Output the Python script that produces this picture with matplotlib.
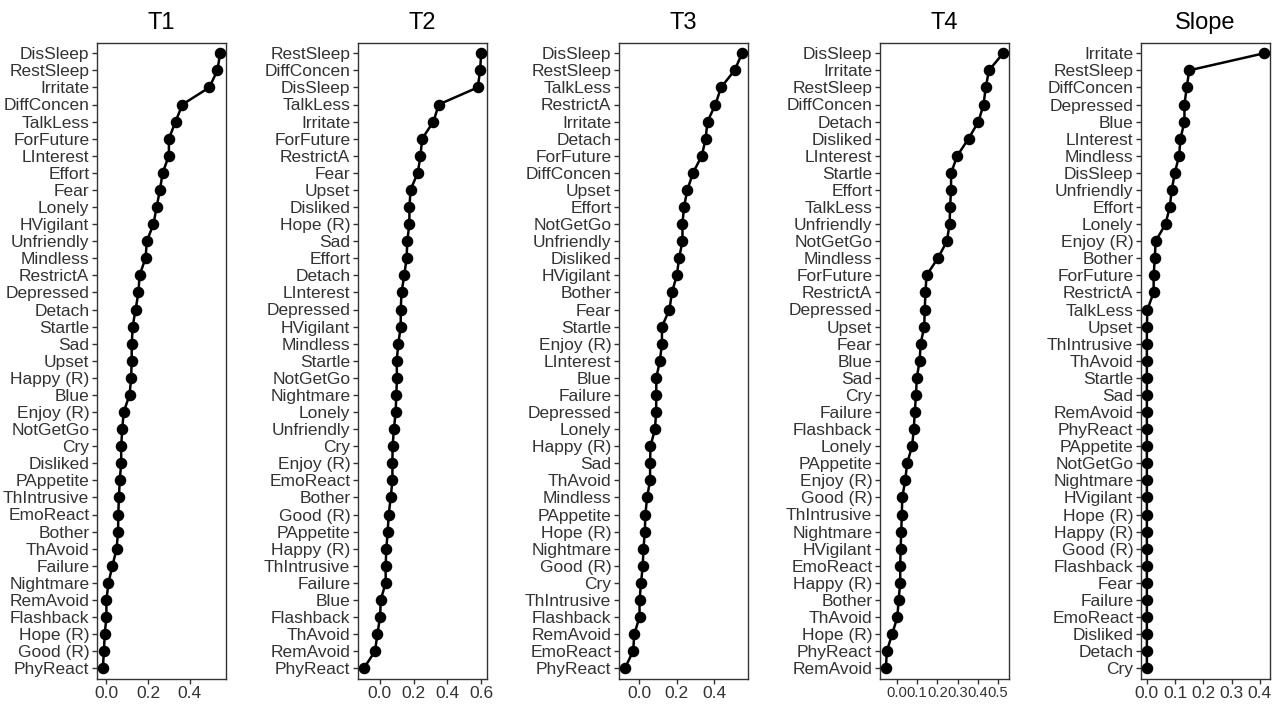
import numpy as np
import matplotlib
matplotlib.use("Agg")
import matplotlib.pyplot as plt

plt.rcParams['font.family'] = ['Liberation Sans', 'DejaVu Sans']

# items listed top to bottom
t1_items = ["DisSleep", "RestSleep", "Irritate", "DiffConcen", "TalkLess", "ForFuture",
            "LInterest", "Effort", "Fear", "Lonely", "HVigilant", "Unfriendly", "Mindless",
            "RestrictA", "Depressed", "Detach", "Startle", "Sad", "Upset", "Happy (R)",
            "Blue", "Enjoy (R)", "NotGetGo", "Cry", "Disliked", "PAppetite", "ThIntrusive",
            "EmoReact", "Bother", "ThAvoid", "Failure", "Nightmare", "RemAvoid", "Flashback",
            "Hope (R)", "Good (R)", "PhyReact"]
t1_vals = [0.546, 0.533, 0.494, 0.365, 0.332, 0.300, 0.300, 0.270, 0.257, 0.241, 0.226,
           0.194, 0.188, 0.159, 0.154, 0.140, 0.126, 0.122, 0.121, 0.119, 0.111, 0.083,
           0.076, 0.071, 0.071, 0.064, 0.060, 0.057, 0.056, 0.049, 0.029, 0.010, 0.000,
           0.000, -0.008, -0.012, -0.017]

t2_items = ["RestSleep", "DiffConcen", "DisSleep", "TalkLess", "Irritate", "ForFuture",
            "RestrictA", "Fear", "Upset", "Disliked", "Hope (R)", "Sad", "Effort", "Detach",
            "LInterest", "Depressed", "HVigilant", "Mindless", "Startle", "NotGetGo",
            "Nightmare", "Lonely", "Unfriendly", "Cry", "Enjoy (R)", "EmoReact", "Bother",
            "Good (R)", "PAppetite", "Happy (R)", "ThIntrusive", "Failure", "Blue",
            "Flashback", "ThAvoid", "RemAvoid", "PhyReact"]
t2_vals = [0.600, 0.594, 0.580, 0.349, 0.318, 0.251, 0.241, 0.225, 0.182, 0.176, 0.175,
           0.163, 0.159, 0.145, 0.129, 0.124, 0.124, 0.110, 0.100, 0.102, 0.098, 0.094,
           0.084, 0.076, 0.075, 0.075, 0.065, 0.053, 0.047, 0.039, 0.035, 0.035, 0.006,
           0.002, -0.014, -0.028, -0.094]

t3_items = ["DisSleep", "RestSleep", "TalkLess", "RestrictA", "Irritate", "Detach",
            "ForFuture", "DiffConcen", "Upset", "Effort", "NotGetGo", "Unfriendly",
            "Disliked", "HVigilant", "Bother", "Fear", "Startle", "Enjoy (R)", "LInterest",
            "Blue", "Failure", "Depressed", "Lonely", "Happy (R)", "Sad", "ThAvoid",
            "Mindless", "PAppetite", "Hope (R)", "Nightmare", "Good (R)", "Cry",
            "ThIntrusive", "Flashback", "RemAvoid", "EmoReact", "PhyReact"]
t3_vals = [0.547, 0.507, 0.435, 0.405, 0.363, 0.353, 0.333, 0.286, 0.256, 0.238, 0.230,
           0.230, 0.212, 0.200, 0.174, 0.161, 0.121, 0.121, 0.110, 0.091, 0.091, 0.090,
           0.084, 0.060, 0.058, 0.058, 0.042, 0.033, 0.030, 0.023, 0.019, 0.010, 0.002,
           0.002, -0.026, -0.032, -0.076]

t4_items = ["DisSleep", "Irritate", "RestSleep", "DiffConcen", "Detach", "Disliked",
            "LInterest", "Startle", "Effort", "TalkLess", "Unfriendly", "NotGetGo",
            "Mindless", "ForFuture", "RestrictA", "Depressed", "Upset", "Fear", "Blue", "Sad",
            "Cry", "Failure", "Flashback", "Lonely", "PAppetite", "Enjoy (R)", "Good (R)",
            "ThIntrusive", "Nightmare", "HVigilant", "EmoReact", "Happy (R)", "Bother",
            "ThAvoid", "Hope (R)", "PhyReact", "RemAvoid"]
t4_vals = [0.525, 0.455, 0.439, 0.428, 0.403, 0.354, 0.298, 0.268, 0.267, 0.263, 0.260,
           0.247, 0.202, 0.146, 0.141, 0.137, 0.135, 0.117, 0.112, 0.098, 0.094, 0.088,
           0.083, 0.075, 0.050, 0.041, 0.026, 0.024, 0.021, 0.018, 0.016, 0.016, 0.008,
           0.002, -0.024, -0.050, -0.055]

slope_items = ["Irritate", "RestSleep", "DiffConcen", "Depressed", "Blue", "LInterest",
               "Mindless", "DisSleep", "Unfriendly", "Effort", "Lonely", "Enjoy (R)",
               "Bother", "ForFuture", "RestrictA", "TalkLess", "Upset", "ThIntrusive",
               "ThAvoid", "Startle", "Sad", "RemAvoid", "PhyReact", "PAppetite", "NotGetGo",
               "Nightmare", "HVigilant", "Hope (R)", "Happy (R)", "Good (R)", "Flashback",
               "Fear", "Failure", "EmoReact", "Disliked", "Detach", "Cry"]
slope_vals = [0.415, 0.150, 0.141, 0.133, 0.133, 0.119, 0.114, 0.099, 0.088, 0.081, 0.066,
              0.031, 0.028, 0.024, 0.024, 0.002, 0.0, 0.0, 0.0, 0.0, 0.0, 0.0, 0.0, 0.0,
              0.0, 0.0, 0.0, 0.0, 0.0, 0.0, 0.0, 0.0, 0.0, 0.0, 0.0, 0.0, 0.0]

titles = ["T1", "T2", "T3", "T4", "Slope"]
panels = [(t1_items, t1_vals), (t2_items, t2_vals), (t3_items, t3_vals),
          (t4_items, t4_vals), (slope_items, slope_vals)]
xticks = [[0.0, 0.2, 0.4], [0.0, 0.2, 0.4, 0.6], [0.0, 0.2, 0.4],
          [0.0, 0.1, 0.2, 0.3, 0.4, 0.5], [0.0, 0.1, 0.2, 0.3, 0.4]]

W, H = 1280, 704
fig = plt.figure(figsize=(W / 100, H / 100), dpi=100)

lefts = [97, 358, 619, 880, 1141]
ax_w = 129
top_px, bot_px = 43, 678.5

for i, (items, vals) in enumerate(panels):
    ax = fig.add_axes([lefts[i] / W, 1 - bot_px / H, ax_w / W, (bot_px - top_px) / H])
    n = len(items)
    y = np.arange(n)[::-1]
    ax.plot(vals, y, color='black', lw=1.8, marker='o', ms=7.3, zorder=3)
    ax.set_yticks(y)
    ax.set_yticklabels(items)
    ax.set_ylim(-0.6, n - 1 + 0.6)
    ax.margins(x=0.05)
    ax.set_xticks(xticks[i])
    ax.set_xticklabels([f"{t:.1f}" for t in xticks[i]])
    ax.tick_params(axis='both', labelsize=12.5, labelcolor='#333333', color='#333333',
                   length=3.5, width=1.0, pad=2)
    if len(xticks[i]) > 5:
        # T4 ticks are crammed: labels sit edge to edge as in the original
        ax.tick_params(axis='x', labelsize=10.6)
    for s in ax.spines.values():
        s.set_color('#333333')
        s.set_linewidth(1.0)
    ax.set_title(titles[i], fontsize=17, pad=10, color='black')

fig.savefig("out.png", dpi=100)
